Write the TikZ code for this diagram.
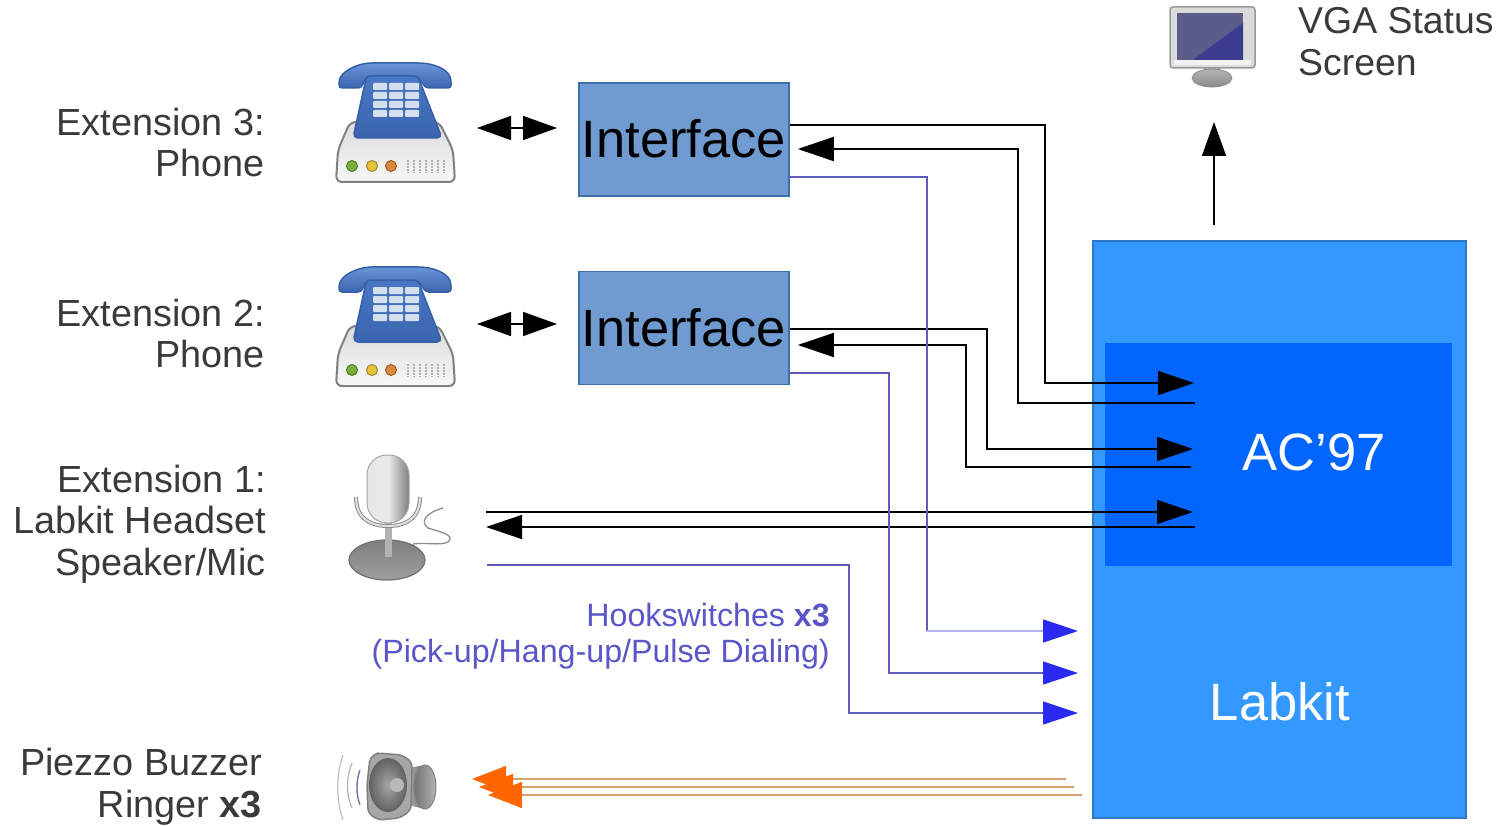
\documentclass[tikz,border=0pt]{standalone}
\usepackage{fontspec}
\setmainfont{Liberation Sans}
\usetikzlibrary{arrows.meta,calc}
\definecolor{txt}{HTML}{3A3A3A}
\definecolor{hook}{HTML}{5A55C8}
\definecolor{hookline}{HTML}{5F5ABF}
\definecolor{hookpale}{HTML}{B4B2EC}
\definecolor{tan}{HTML}{D9A06F}
\definecolor{ifill}{HTML}{6F9BD1}
\definecolor{iedge}{HTML}{3F70AE}
\definecolor{labfill}{HTML}{3399FF}
\definecolor{labedge}{HTML}{2E78C8}
\definecolor{acfill}{HTML}{0066FF}
\definecolor{orangehead}{HTML}{FF6600}
\definecolor{bluehead}{HTML}{2A2AF0}
\definecolor{ptop}{HTML}{6A95D8}
\definecolor{pmid}{HTML}{4A78C4}
\definecolor{pbot}{HTML}{3A64AE}
\definecolor{pedge}{HTML}{3560A8}
\definecolor{keyc}{HTML}{D5E0EE}
\definecolor{scrA}{HTML}{5C5C88}
\definecolor{scrB}{HTML}{3B3B90}
\tikzset{
  lab/.style={text=txt,inner sep=0pt,align=right,anchor=east,font=\fontsize{37.8}{41.5}\selectfont},
  ifbox/.style={draw=iedge,fill=ifill,line width=1.5pt,inner sep=0pt,minimum width=210pt,minimum height=113pt,text=black,font=\fontsize{52.5}{52}\selectfont},
  blk/.style={draw=black,line width=1.5pt},
  blkarrow/.style={blk,-{Triangle[length=36pt,width=24pt]}},
  hk/.style={draw=hookline,line width=1.2pt,-{Triangle[length=35pt,width=23pt,color=bluehead]}},
  hkplain/.style={draw=hookline,line width=1.2pt},
  hkpale/.style={draw=hookpale,line width=1.6pt,-{Triangle[length=35pt,width=23pt,color=bluehead]}},
  or/.style={draw=tan,line width=1.3pt,-{Triangle[length=34pt,width=26pt,color=orangehead]}},
  dbl/.style={blk,{Triangle[length=34pt,width=24pt]}-{Triangle[length=34pt,width=24pt]}},
  phone/.pic={
    \draw[draw=black!50,line width=2pt,rounded corners=6pt,top color=black!14,bottom color=black!3]
      (350,122)--(439,122)--(453,150)--(455,182)--(336,182)--(338,150)--cycle;
    \foreach \cx/\col in {352/7AB03A,372/E5C33A,391/E0863A}{
      \definecolor{ledc}{HTML}{\col}
      \draw[ledc!70!black,fill=ledc,line width=1pt] (\cx,166) circle[radius=5.5pt];
    }
    \foreach \gx in {408,414,...,444}{
      \draw[black!30,line width=1.6pt,dash pattern=on 2pt off 1pt] (\gx,160)--(\gx,173);
    }
    \draw[draw=pedge,line width=1.5pt,rounded corners=5pt,top color=pmid,bottom color=pbot]
      (367,74)--(417,74)--(442,138)--(353,138)--cycle;
    \foreach \ky in {83,92,101,110}{
      \foreach \kx in {373,389,405}{
        \fill[keyc,rounded corners=1pt] (\kx,\ky) rectangle ++(14,7);
      }
    }
    \draw[draw=pedge,line width=1.5pt,rounded corners=3pt,top color=ptop,bottom color=pbot]
      (339,88)--(339,80) .. controls (345,69) and (360,63) .. (375,63) -- (415,63)
      .. controls (435,63) and (448,70) .. (451,80) -- (451,88) -- (426,88) -- (417,76) -- (367,76) -- (361,88) -- cycle;
  }
}
\begin{document}
\begin{tikzpicture}[x=1pt,y=-1pt]
\useasboundingbox (0,0) rectangle (1501,826);
% main boxes
\node[draw=labedge,fill=labfill,line width=1.5pt,inner sep=0pt,minimum width=373pt,minimum height=577pt] (labkit) at (1279.5,529.5) {};
\node[fill=acfill,inner sep=0pt,minimum width=347pt,minimum height=223pt] (ac) at (1278.5,454.5) {};
\node[inner sep=0pt,text=white,font=\fontsize{52.5}{52}\selectfont] (actext) at (1314,452.5) {AC’97};
\node[inner sep=0pt,text=white,font=\fontsize{52.5}{52}\selectfont] (labtext) at (1280,702) {Labkit};
\node[ifbox] (if3) at (684,139.5) {\raisebox{2pt}{Interface}};
\node[ifbox] (if2) at (684,328) {Interface};
% labels
\node[lab] (l3) at (265,142.5) {Extension 3:\\Phone};
\node[lab] (l2) at (265,333.5) {Extension 2:\\Phone};
\node[lab] (l1) at (266,524) {Extension 1:\\Labkit Headset\\Speaker/Mic};
\node[lab] (l0) at (262,786.5) {Piezzo Buzzer\\Ringer \textbf{x3}};
\node[text=txt,inner sep=0pt,align=left,anchor=west,font=\fontsize{37.4}{42}\selectfont] (vga) at (1298,42) {VGA Status\\Screen};
\node[text=hook,inner sep=0pt,align=right,anchor=east,font=\fontsize{32.2}{36}\selectfont] (hs) at (830,636) {Hookswitches \textbf{x3}\\(Pick-up/Hang-up/Pulse Dialing)};
% phones
\pic at (0,0) {phone};
\pic at (0,204) {phone};
% microphone
\shade[top color=black!50,bottom color=black!38,draw=black!55,line width=1.3pt] (387,560) ellipse[x radius=38pt,y radius=20pt];
\fill[black!30] (385,520) rectangle (392,557);
\draw[black!45,line width=4pt] (356,497) .. controls (356,520) and (372,526) .. (388,526) .. controls (404,526) and (420,520) .. (420,497);
\draw[black!12,line width=2pt] (356,497) .. controls (356,520) and (372,526) .. (388,526) .. controls (404,526) and (420,520) .. (420,497);
\shade[left color=black!10,right color=black!50,middle color=black!8,draw=black!35,line width=1pt,rounded corners=20pt] (367,455) rectangle (409,523);
\draw[black!45,line width=1.3pt] (443,508) .. controls (425,513) and (420,522) .. (428,528) .. controls (440,532) and (456,535) .. (448,542) .. controls (440,546) and (425,542) .. (413,544);
% speaker
\draw[blue!25!black!25,line width=1.2pt] (343,755) .. controls (336,775) and (336,800) .. (343,820);
\draw[blue!25!black!30,line width=1.2pt] (352,763) .. controls (346,778) and (346,795) .. (352,808);
\draw[blue!40!black!55,line width=1.4pt] (360,770) .. controls (356,780) and (356,795) .. (360,805);
\shade[left color=black!35,right color=black!55] (408,768) -- (425,765) -- (425,809) -- (408,805) -- cycle;
\shade[left color=black!55,right color=black!30,draw=black!50,line width=1pt] (425,787) ellipse[x radius=11pt,y radius=22pt];
\draw[draw=black!50,fill=black!35,line width=1.5pt,rounded corners=5pt] (370,757)--(378,753)--(402,755)--(412,762)--(411,810)--(400,818)--(378,820)--(368,813)--(367,785)--cycle;
\shade[inner color=black!35,outer color=black!62] (388,785) ellipse[x radius=19pt,y radius=27pt];
\fill[black!28] (397,785) circle[radius=7pt];
% monitor
\fill[black!30] (1204,68) rectangle (1220,76);
\shade[top color=black!30,bottom color=black!45,draw=black!45,line width=.8pt] (1212,78) ellipse[x radius=20pt,y radius=9pt];
\draw[draw=black!40,fill=black!14,line width=1.5pt,rounded corners=3pt] (1170,7) rectangle (1255,68);
\fill[black!5] (1174,60) rectangle (1251,65);
\fill[scrA] (1177,13) rectangle (1243,60);
\fill[scrB] (1193,60) -- (1243,60) -- (1243,23) -- cycle;
% connector ends
\coordinate (a3out) at (if3.east |- 0,125);
\coordinate (a3in)  at ($(if3.east |- 0,149)+(8,0)$);
\coordinate (h3)    at (if3.east |- 0,177);
\coordinate (a2out) at (if2.east |- 0,329);
\coordinate (a2in)  at ($(if2.east |- 0,345)+(8,0)$);
\coordinate (h2)    at (if2.east |- 0,373);
\coordinate (h3turn) at (927,631);
\draw[dbl] (477,128) -- (557,128);
\draw[dbl] (477,324) -- (557,324);
% black connectors
\draw[blkarrow] (a3out) -- (1045,125) -- (1045,383) -- (1194,383);
\draw[blkarrow] (1195,403) -- (1018,403) -- (1018,149) -- (a3in);
\draw[blkarrow] (a2out) -- (987,329) -- (987,449) -- (1193,449);
\draw[blkarrow] (1191,467) -- (966,467) -- (966,345) -- (a2in);
\draw[blkarrow] (486,512) -- (1193,512);
\draw[blkarrow] (1195,527) -- (486,527);
\draw[blk,-{Triangle[length=34pt,width=24pt]}] (1214,225) -- (1214,122);
% hookswitch connectors
\draw[hkplain] (h3) -- (927,177) -- (h3turn);
\draw[hkpale] (h3turn) -- (1078,631);
\draw[hk] (h2) -- (889,373) -- (889,673) -- (1078,673);
\draw[hk] (487,565) -- (849,565) -- (849,713) -- (1078,713);
% ringer connectors
\draw[or] (1066,779) -- (472,779);
\draw[or] (1074,787) -- (479,787);
\draw[or] (1082,795) -- (488,795);
\end{tikzpicture}
\end{document}
